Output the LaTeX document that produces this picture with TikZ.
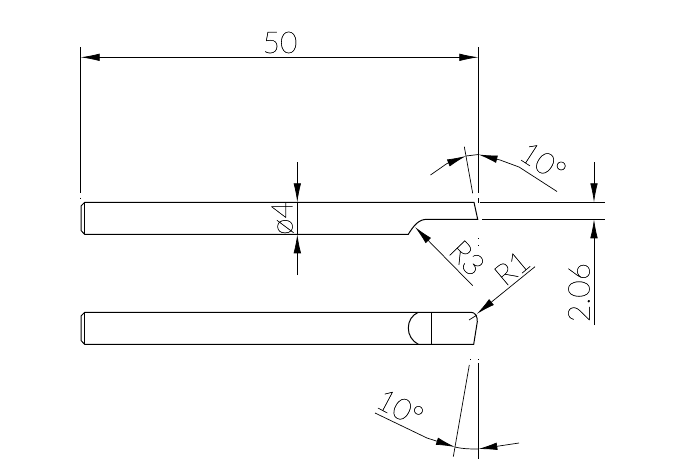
\documentclass[tikz,border=0pt]{standalone}
\usepackage{fontspec}
\setsansfont{Lato}[UprightFont=* Hairline,UprightFeatures={FakeBold=0.6}]
\usetikzlibrary{arrows.meta}
\tikzset{
	part/.style={line width=1pt},
	dimline/.style={line width=.7pt},
	dimtext/.style={inner sep=0pt,font=\sffamily\fontsize{30}{30}\selectfont}
}
\begin{document}
\begin{tikzpicture}[>={Latex[length=19pt,width=7.5pt]},x=1pt,y=-1pt]
	\useasboundingbox (0,0) rectangle (694,471);
	% upper rod
	\draw [part] (84.7,202.3) -- (474,202.3) -- (477.7,219.3) -- (427,219.3)
		.. controls (419,219.3) and (414,225) .. (408.3,234.3) -- (84.7,234.3)
		-- (81,230.5) -- (81,206) -- cycle;
	\draw [dimline] (84.7,202.3) -- (84.7,234.3);
	% lower rod
	\draw [part] (84.7,312.3) -- (471,312.3) .. controls (475,312.3) and (477.5,316) .. (477.3,321.7)
		-- (473.7,344.3) -- (84.7,344.3) -- (81,340.5) -- (81,316) -- cycle;
	\draw [dimline] (84.7,312.3) -- (84.7,344.3);
	\draw [part] (431.3,312.3) -- (431.3,344.3);
	\draw [part] (418.3,312.3) .. controls (412,315) and (408.3,321) .. (408.3,328)
		.. controls (408.3,335) and (412,341) .. (418.3,344.3);
	\draw [dimline] (469,320) -- (477,315);
	% 50
	\coordinate (LeftEnd) at (80.7,57.3);
	\coordinate (RightEnd) at (478.3,57.3);
	\draw [dimline] (80.7,47) -- (80.7,193) (80.7,197.5) -- (80.7,198.5);
	\draw [dimline] (478.3,47) -- (478.3,193);
	\draw [dimline,<->] (LeftEnd) -- (RightEnd);
	\node [dimtext] (Length) at (280,42.5) {50};
	% angle at the top
	\coordinate (TopA) at (466,156);
	\coordinate (TopB) at (478.5,154.5);
	\draw [dimline] (464.3,146.7) -- (472.7,193.3);
	\draw [dimline] (478.3,198) -- (478.3,203) (478.3,238) -- (478.3,239) (478.3,245) -- (478.3,246);
	\draw [dimline,->] (430.5,175) -- (447,163.5) -- (TopA);
	\draw [dimline,->] (557,191.5) -- (519,167) -- (500,160) -- (TopB);
	\draw [dimline] (TopA) -- (TopB);
	\node [dimtext,rotate=-33] (TopAngle) at (543,162) {10°};
	% 2.06
	\coordinate (GapTop) at (594,202.3);
	\coordinate (GapLow) at (594,219.3);
	\draw [dimline] (479.5,202.3) -- (605,202.3) (482,219.3) -- (605,219.3);
	\draw [dimline,->] (594,162) -- (GapTop);
	\draw [dimline,->] (594,325) -- (GapLow);
	\node [dimtext,rotate=90] (Gap) at (579,292.5) {2.06};
	% diameter
	\coordinate (DiaTop) at (297.3,202.3);
	\coordinate (DiaLow) at (297.3,234.3);
	\draw [dimline,->] (297.3,162) -- (DiaTop);
	\draw [dimline,->] (297.3,275) -- (DiaLow);
	\draw [dimline] (DiaTop) -- (DiaLow);
	\node [dimtext,rotate=90] (Dia) at (282.5,218) {ø4};
	% radii
	\coordinate (TipThree) at (415,227);
	\coordinate (TipOne) at (476.7,314);
	\draw [dimline,->] (472.7,285.7) -- (TipThree);
	\draw [dimline,->] (535,266.7) -- (TipOne);
	\node [dimtext,rotate=-46] (RadThree) at (467,258) {R3};
	\node [dimtext,rotate=40] (RadOne) at (512,268) {R1};
	% angle at the bottom
	\coordinate (LowA) at (455,447);
	\coordinate (LowB) at (478.3,449);
	\draw [dimline] (469.3,365) -- (453.3,456.7);
	\draw [dimline] (478.3,363) -- (478.3,459) (478.3,359) -- (478.3,360) (470,359) -- (470,360);
	\draw [dimline,->] (375,413) -- (427,438) -- (LowA);
	\draw [dimline,->] (519,443) -- (499,446) -- (LowB);
	\draw [dimline] (LowA) .. controls (463,449) and (470,449) .. (LowB);
	\node [dimtext,rotate=-28] (LowAngle) at (400,408) {10°};
\end{tikzpicture}
\end{document}
